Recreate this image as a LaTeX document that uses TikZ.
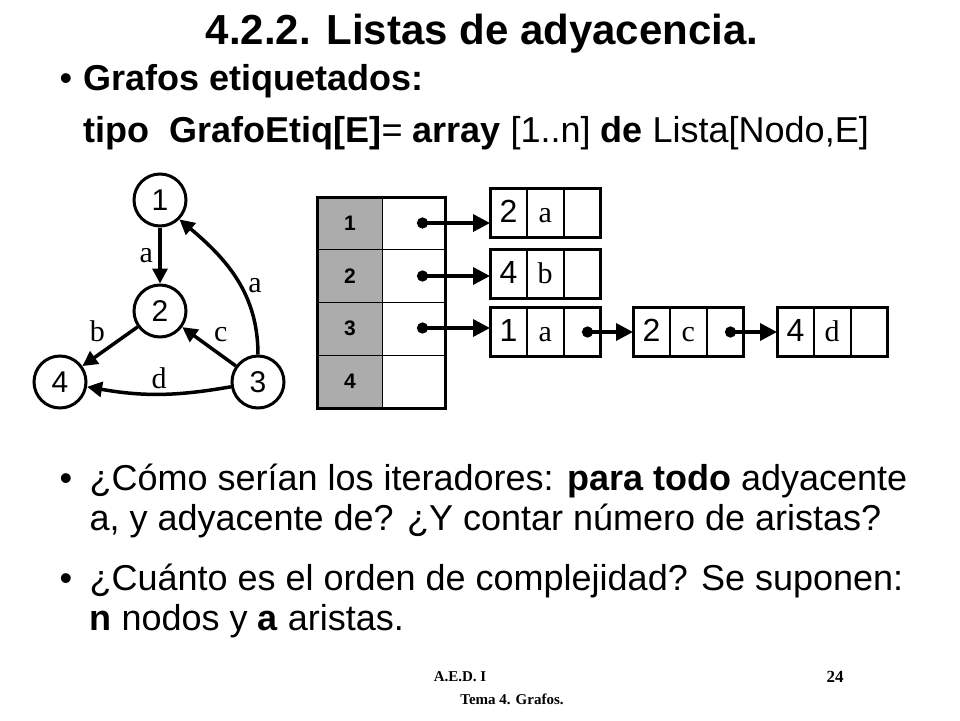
\documentclass[tikz,border=0pt]{standalone}
\usepackage{fontspec}
\setmainfont{Liberation Sans}
\newfontfamily\serifb{Liberation Serif}
\usetikzlibrary{arrows.meta}
\begin{document}
\begin{tikzpicture}[x=1pt,y=-1pt,
  gn/.style={circle,draw,line width=3pt,minimum size=52pt,inner sep=0pt,font=\fontsize{30}{30}\selectfont},
  ge/.style={line width=3.5pt,-{Triangle[length=15pt,width=15pt]}},
  el/.style={font=\serifb\fontsize{30}{30}\selectfont},
  cell/.style={draw,line width=0.8pt,minimum width=36pt,minimum height=48pt,inner sep=0pt,text height=20pt,text depth=2pt},
  lk/.style={line width=3.5pt,{Circle[length=11pt]}-{Triangle[length=17pt,width=17pt]}},
  bul/.style={anchor=base west,font=\fontsize{36}{36}\selectfont},
  txt/.style={anchor=base west,font=\fontsize{36}{36}\selectfont}]
\useasboundingbox (0,0) rectangle (960,720);
% title
\node[font=\bfseries\fontsize{42}{42}\selectfont,anchor=base] (t) at (482,44) {4.2.2. Listas de adyacencia.};
\node[bul] (bb1) at (56,90) {•};
\node[txt,font=\bfseries\fontsize{36}{36}\selectfont] (b1) at (80,90) {Grafos etiquetados:};
\node[txt] (ty) at (80,142) {\textbf{tipo\ \ GrafoEtiq[E]}= \textbf{array} [1..n] \textbf{de} Lista[Nodo,E]};
% graph
\node[gn] (n1) at (160,200) {1};
\node[gn] (n2) at (160,311) {2};
\node[gn] (n4) at (60,382) {4};
\node[gn] (n3) at (258,382) {3};
\draw[ge] (n1) -- (n2) node[el,midway,left=2pt] (la) {a};
\draw[ge] (n2) -- (n4) node[el,midway,above left=0pt] (lb) {b};
\draw[ge] (n3) -- (n2) node[el,midway,above right=0pt] (lc) {c};
\draw[ge] (n3) to[out=190,in=-10] node[el,above] (ld) {d} (n4);
\draw[ge] (n3.north) to[out=90,in=-40] node[el,right=3pt,pos=0.45] (la2) {a} (n1.south east);
% array
\fill[gray!65] (317,197) rectangle (382,408);
\foreach \y in {249,302,355} \draw[line width=0.8pt] (317,\y) -- (445,\y);
\draw[line width=0.8pt] (382,197) -- (382,408);
\draw[line width=3pt] (317,197) rectangle (445,408);
\foreach \i/\y in {1/223,2/276,3/328,4/381} \node[font=\bfseries\fontsize{21}{21}\selectfont] (r\i) at (350,\y) {\i};
\coordinate (p1) at (417,223);
\coordinate (p2) at (417,276);
\coordinate (p3) at (417,328);
% lists
\newcommand{\lnode}[5]{%
  \node[cell,anchor=west,font=\fontsize{32}{32}\selectfont] (#1a) at (#2,#3) {#4};
  \node[cell,anchor=west,font=\serifb\fontsize{30}{30}\selectfont] (#1b) at (#1a.east) {#5};
  \node[cell,anchor=west] (#1c) at (#1b.east) {};
  \draw[line width=3pt] (#1a.north west) rectangle (#1c.south east);}
\lnode{A}{490}{213}{2}{a}
\lnode{B}{490}{274}{4}{b}
\lnode{C}{490}{332}{1}{a}
\lnode{D}{633}{332}{2}{c}
\lnode{E}{777}{332}{4}{d}
\draw[lk] (p1) -- (p1 -| Aa.west);
\draw[lk] (p2) -- (p2 -| Ba.west);
\draw[lk] (p3) -- (p3 -| Ca.west);
\draw[lk] (Cc.center) -- (Da.west);
\draw[lk] (Dc.center) -- (Ea.west);
% bullets
\node[bul] (bq1) at (56,490) {•};
\node[txt] (q1) at (86,490) {¿Cómo serían los iteradores: \textbf{para todo} adyacente};
\node[txt] (q1b) at (86,530) {a, y adyacente de? ¿Y contar número de aristas?};
\node[bul] (bq2) at (56,590) {•};
\node[txt] (q2) at (86,590) {¿Cuánto es el orden de complejidad? Se suponen:};
\node[txt] (q2b) at (86,630) {\textbf{n} nodos y \textbf{a} aristas.};
% footer
\node[font=\serifb\bfseries\fontsize{15}{15}\selectfont] (f1) at (460,677) {A.E.D. I};
\node[font=\serifb\bfseries\fontsize{17}{17}\selectfont] (f2) at (835,677) {24};
\node[font=\serifb\bfseries\fontsize{15}{15}\selectfont] (f3) at (512,699) {Tema 4. Grafos.};
\end{tikzpicture}
\end{document}
